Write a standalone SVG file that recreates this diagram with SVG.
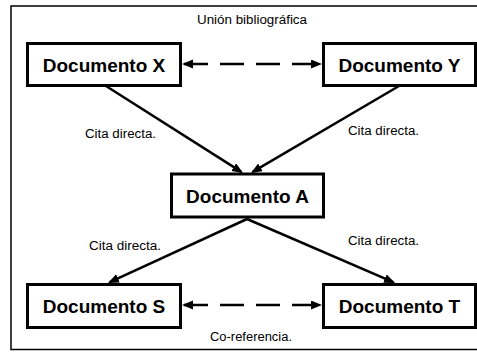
<svg xmlns="http://www.w3.org/2000/svg" width="477" height="352" viewBox="0 0 477 352">
<style>
.box{fill:#fff;stroke:#000;stroke-width:3}
.nt{font-family:"Liberation Sans",Arial,sans-serif;font-weight:bold;font-size:19px;fill:#000;text-anchor:middle}
.lb{font-family:"Liberation Sans",Arial,sans-serif;font-size:12px;fill:#000}
.ln{stroke:#000;stroke-width:2.5;fill:none}
.dash{stroke-dasharray:24 12}
</style>
<defs>
<marker id="ah" markerUnits="userSpaceOnUse" markerWidth="12" markerHeight="10" refX="9" refY="4.5" orient="auto-start-reverse">
<path d="M0,0 L11,4.5 L0,9 z" fill="#000"/>
</marker>
</defs>
<rect x="11" y="6" width="475" height="343.5" fill="#fff" stroke="#000" stroke-width="1.5"/>
<g id="connectors">
<line class="ln" x1="106" y1="86" x2="241.3" y2="171.9" marker-end="url(#ah)"/>
<line class="ln" x1="399" y1="86" x2="252.7" y2="171.9" marker-end="url(#ah)"/>
<line class="ln" x1="247" y1="219" x2="109.8" y2="282.1" marker-end="url(#ah)"/>
<line class="ln" x1="247" y1="219" x2="393.2" y2="282.1" marker-end="url(#ah)"/>
<line class="ln dash" x1="184" y1="64" x2="320" y2="64" marker-start="url(#ah)" marker-end="url(#ah)"/>
<line class="ln dash" x1="184" y1="305" x2="320" y2="305" marker-start="url(#ah)" marker-end="url(#ah)"/>
</g>
<g id="label-union"><text class="lb" x="197" y="24" textLength="110" lengthAdjust="spacingAndGlyphs">Unión bibliográfica</text></g>
<g id="label-xa"><text class="lb" x="85" y="138" textLength="71" lengthAdjust="spacingAndGlyphs">Cita directa.</text></g>
<g id="label-ya"><text class="lb" x="348" y="135" textLength="71" lengthAdjust="spacingAndGlyphs">Cita directa.</text></g>
<g id="label-as"><text class="lb" x="89" y="250" textLength="72" lengthAdjust="spacingAndGlyphs">Cita directa.</text></g>
<g id="label-at"><text class="lb" x="348" y="245" textLength="71" lengthAdjust="spacingAndGlyphs">Cita directa.</text></g>
<g id="label-coref"><text class="lb" x="210" y="341" textLength="82" lengthAdjust="spacingAndGlyphs">Co-referencia.</text></g>
<g id="node-x"><rect class="box" x="27.5" y="43.5" width="153" height="42"/><text class="nt" x="104" y="71.5">Documento X</text></g>
<g id="node-y"><rect class="box" x="323.5" y="43.5" width="152" height="42"/><text class="nt" x="399.5" y="71.5">Documento Y</text></g>
<g id="node-a"><rect class="box" x="171.5" y="174" width="152" height="43"/><text class="nt" x="247.5" y="202.5">Documento A</text></g>
<g id="node-s"><rect class="box" x="27.5" y="284.5" width="153" height="43"/><text class="nt" x="104" y="312.8">Documento S</text></g>
<g id="node-t"><rect class="box" x="323.5" y="284.5" width="152" height="43"/><text class="nt" x="399.5" y="312.8">Documento T</text></g>
</svg>
